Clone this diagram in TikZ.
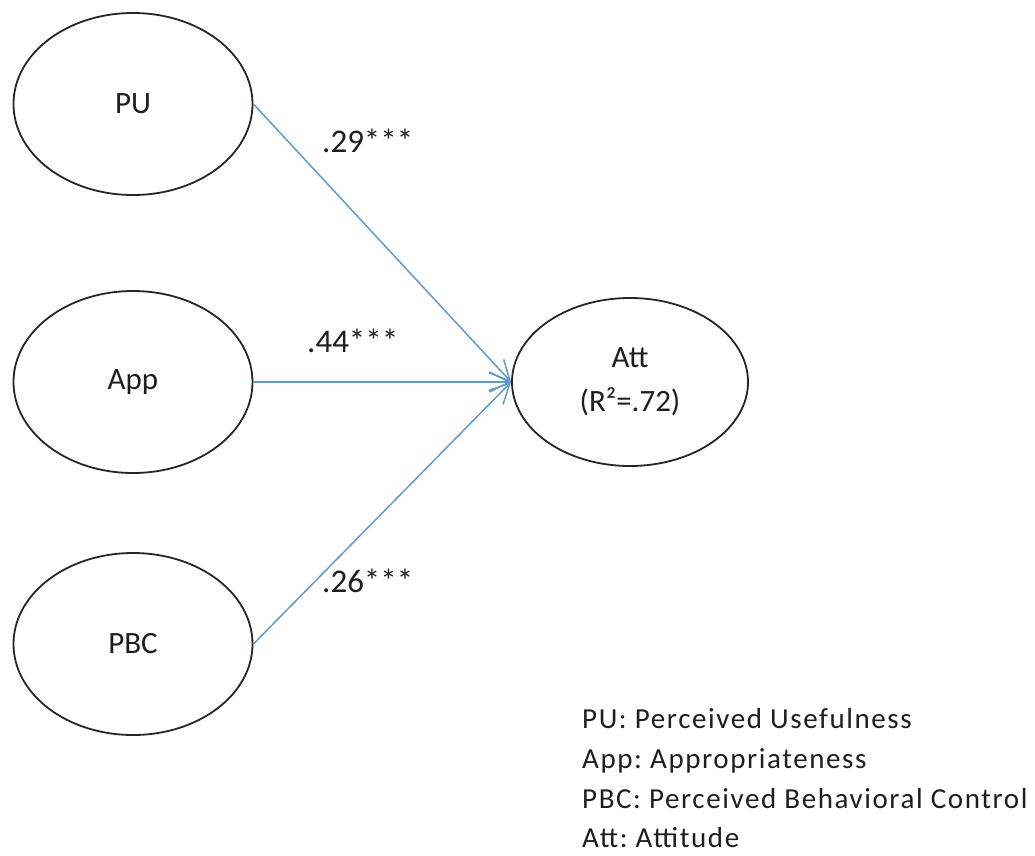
\documentclass[tikz,border=0pt]{standalone}
\usepackage{fontspec}
\setmainfont{Carlito}
\newfontfamily\legendfont[LetterSpace=5.5]{Carlito}
\usetikzlibrary{shapes.geometric,arrows.meta}
\definecolor{wordblue}{RGB}{91,155,213}
\definecolor{txt}{RGB}{30,30,30}
\frenchspacing
\begin{document}
\begin{tikzpicture}[x=1pt,y=-1pt,
  latent/.style={ellipse,draw=black!85,line width=1.8pt,inner sep=0pt,
    minimum width=239pt,minimum height=182pt,text=txt,
    font=\fontsize{31}{38}\selectfont},
  path/.style={draw=wordblue,line width=1.5pt,-{Straight Barb[length=20pt,width=20pt,line width=1.5pt]}},
  coef/.style={anchor=base west,inner sep=0pt,text=txt,font=\fontsize{33}{40}\selectfont},
  legend/.style={anchor=base west,inner sep=0pt,text=txt,font=\legendfont\fontsize{29}{34}\selectfont}]
\useasboundingbox (0,0) rectangle (1035,855);
\node[latent] (PU)  at (133,104) {PU};
\node[latent] (App) at (133,382) {App};
\node[latent] (PBC) at (133,644) {PBC};
\node[latent,minimum width=236pt,minimum height=168pt,align=center,
  font=\fontsize{31}{44}\selectfont] (Att) at (630,382) {Att\\(R²=.72)};
\draw[path] (PU.east) -- (Att.west);
\draw[path] (App.east) -- (Att.west);
\draw[path] (PBC.east) -- (Att.west);
\node[coef] (c1) at (322,152) {.29***};
\node[coef] (c2) at (307,352) {.44***};
\node[coef] (c3) at (322,592) {.26***};
\node[legend] (l1) at (582,728) {PU: Perceived Usefulness};
\node[legend] (l2) at (582,768) {App: Appropriateness};
\node[legend] (l3) at (582,808) {PBC: Perceived Behavioral Control};
\node[legend] (l4) at (582,847) {Att: Attitude};
\end{tikzpicture}
\end{document}
